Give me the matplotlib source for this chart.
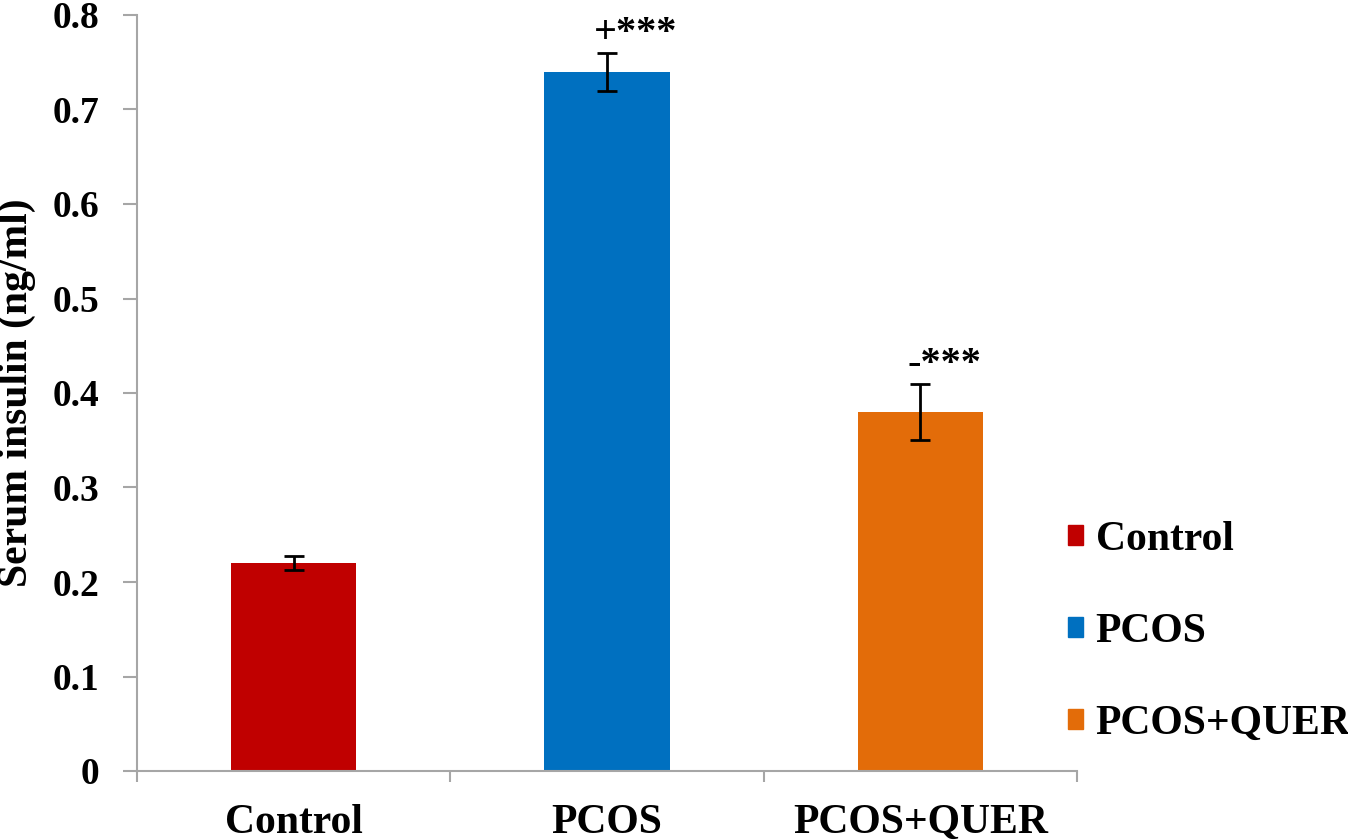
import matplotlib.pyplot as plt
import numpy as np

groups = ['Control', 'PCOS', 'PCOS+QUER']
insulin = [0.22, 0.74, 0.38]
insulin_err = [0.007, 0.02, 0.03]
marks = ['', '+***', '-***']
colors = ['#C00000', '#0070C0', '#E36C09']

plt.rcParams['font.family'] = ['Liberation Serif', 'DejaVu Serif']
plt.rcParams['font.weight'] = 'bold'
axis_gray = '#A6A6A6'

fig = plt.figure(figsize=(13.48, 8.4), dpi=100)
ax = fig.add_axes([137/1348, 1 - 771/840, (1077 - 137)/1348, (771 - 15)/840])

x = np.arange(len(groups))
ax.bar(x, insulin, width=0.4, color=colors, zorder=2)
ax.errorbar(x, insulin, yerr=insulin_err, fmt='none', ecolor='black',
            elinewidth=2, capsize=7, capthick=2, zorder=3)

# significance marks above the error bars
for i, txt in enumerate(marks):
    if txt:
        ax.text(i - 0.042, insulin[i] + insulin_err[i] + 0.001, txt,
                ha='left', va='bottom', fontsize=29, fontweight='bold')

ax.set_xlim(-0.5, 2.5)
ax.set_ylim(0, 0.8)
yt = np.arange(0, 0.81, 0.1)
ax.set_yticks(yt)
ax.set_yticklabels(['0' if v == 0 else f'{v:.1f}' for v in yt])
ax.set_xticks(x)
ax.set_xticklabels(groups)
ax.set_xticks(np.arange(-0.5, 2.6, 1), minor=True)

ax.tick_params(axis='x', which='major', length=0, pad=24, labelsize=30)
ax.tick_params(axis='x', which='minor', length=8, width=1.5, color=axis_gray, direction='out')
ax.tick_params(axis='y', length=10, width=1.5, color=axis_gray, direction='out', pad=17, labelsize=27)
for lab in ax.get_xticklabels() + ax.get_yticklabels():
    lab.set_fontweight('bold')

for side in ['top', 'right']:
    ax.spines[side].set_visible(False)
for side in ['left', 'bottom']:
    ax.spines[side].set_color(axis_gray)
    ax.spines[side].set_linewidth(1.5)

ax.set_ylabel('Serum insulin (ng/ml)', fontsize=30, fontweight='bold', labelpad=12)

handles = [plt.Rectangle((0, 0), 1, 1, color=c) for c in colors]
fig.legend(handles, groups, loc='center left', bbox_to_anchor=(1068/1348, 1 - 632/840),
           frameon=False, handlelength=0.36, handleheight=0.36,
           handletextpad=0.3, labelspacing=1.3, borderpad=0, borderaxespad=0,
           prop={'weight': 'bold', 'size': 30})

fig.savefig('out.png', dpi=100)
